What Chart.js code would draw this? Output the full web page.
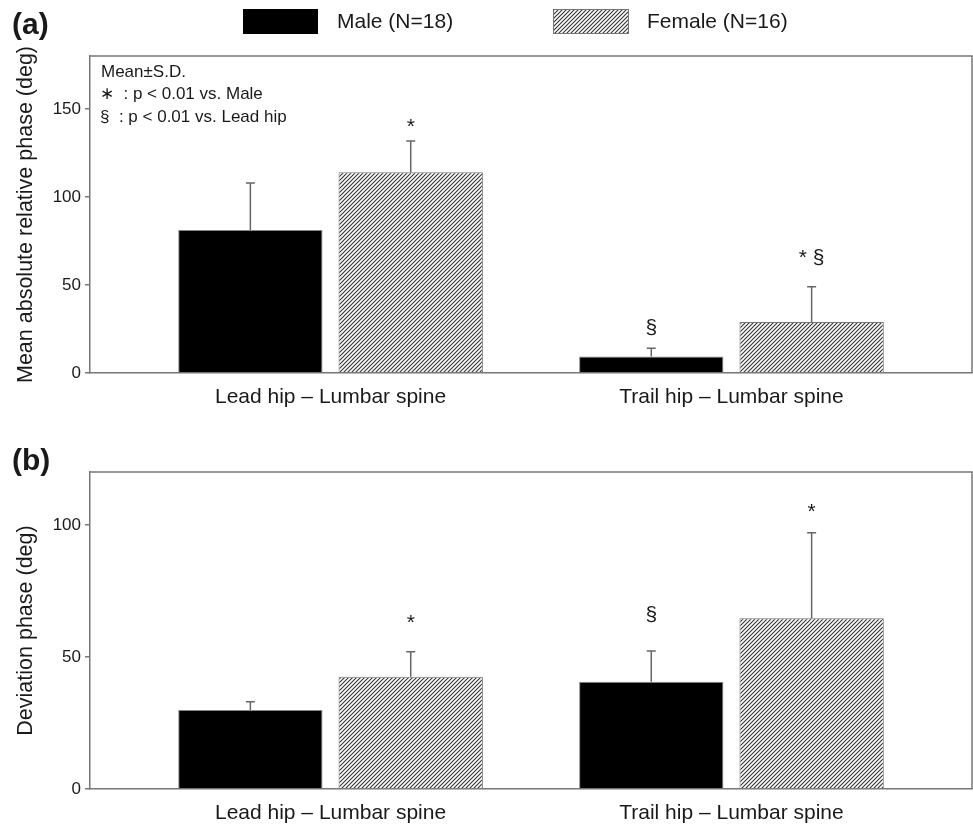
<!DOCTYPE html>
<html>
<head>
<meta charset="utf-8">
<script src="https://cdn.jsdelivr.net/npm/chart.js@4.4.1/dist/chart.umd.min.js"></script>
<style>
  body { margin: 0; background: #fff; }
  .panel { position: relative; width: 973px; }
</style>
</head>
<body>
<div class="panel"><canvas id="chartA" width="973" height="430"></canvas></div>
<div class="panel"><canvas id="chartB" width="973" height="399"></canvas></div>
<script>
///DATOS
const categorias = ["Lead hip – Lumbar spine", "Trail hip – Lumbar spine"]

const phaseMale = [81.2, 9.3]
const phaseMaleSD = [26.7, 4.7]
const phaseFemale = [114.0, 29.0]
const phaseFemaleSD = [17.7, 20.0]
const phaseMarkMale = ["", "§"]
const phaseMarkFemale = ["*", "* §"]
const phaseMarkLevelMale = [null, 26.1]
const phaseMarkLevelFemale = [142, 65.3]
const phaseTicks = [0, 50, 100, 150]

const devMale = [29.9, 40.6]
const devMaleSD = [3.1, 11.6]
const devFemale = [42.5, 64.6]
const devFemaleSD = [9.5, 32.4]
const devMarkMale = ["", "§"]
const devMarkFemale = ["*", "*"]
const devMarkLevelMale = [null, 65.9]
const devMarkLevelFemale = [64.3, 106.4]
const devTicks = [0, 50, 100]

const FONT = "'Liberation Sans', Arial, sans-serif"
const AXIS_COLOR = "#777"
const TEXT_COLOR = "#1a1a1a"


///PATRON RAYADO PARA FEMALE
function crearRayado() {
    const c = document.createElement("canvas")
    c.width = 4
    c.height = 4
    const g = c.getContext("2d")
    g.fillStyle = "#fff"
    g.fillRect(0, 0, 4, 4)
    g.strokeStyle = "#333"
    g.lineWidth = 1.1
    g.beginPath()
    g.moveTo(0, 4); g.lineTo(4, 0)
    g.moveTo(-1, 1); g.lineTo(1, -1)
    g.moveTo(3, 5); g.lineTo(5, 3)
    g.stroke()
    return g.createPattern(c, "repeat")
}
const rayado = crearRayado()


///PLUGIN: BARRAS DE ERROR, MARCAS Y MARCO
const extrasPlugin = {
    id: "extras",
    afterDatasetsDraw(chart) {
        const ctx = chart.ctx
        const y = chart.scales.y
        chart.data.datasets.forEach((ds, i) => {
            const meta = chart.getDatasetMeta(i)
            meta.data.forEach((bar, j) => {
                const topVal = ds.data[j].y + ds.sd[j]
                const yTop = y.getPixelForValue(topVal)
                ctx.save()
                ctx.strokeStyle = "#666"
                ctx.lineWidth = 1.5
                ctx.beginPath()
                ctx.moveTo(bar.x, bar.y)
                ctx.lineTo(bar.x, yTop)
                ctx.moveTo(bar.x - 4.5, yTop)
                ctx.lineTo(bar.x + 4.5, yTop)
                ctx.stroke()

                const mark = ds.marks[j]
                if (mark) {
                    ctx.font = "21px " + FONT
                    ctx.fillStyle = TEXT_COLOR
                    ctx.textAlign = "center"
                    ctx.textBaseline = "alphabetic"
                    const m = ctx.measureText(mark)
                    const yc = y.getPixelForValue(ds.markLevels[j])
                    const base = yc + (m.actualBoundingBoxAscent - m.actualBoundingBoxDescent) / 2
                    ctx.fillText(mark, bar.x, base)
                }
                ctx.restore()
            })
        })
    },
    afterDraw(chart) {
        const ctx = chart.ctx
        const a = chart.chartArea
        ctx.save()
        ctx.strokeStyle = AXIS_COLOR
        ctx.lineWidth = 1.5
        ctx.beginPath()
        ctx.moveTo(a.left, a.top)
        ctx.lineTo(a.right, a.top)
        ctx.lineTo(a.right, a.bottom)
        ctx.stroke()

        const opts = chart.options.plugins.extras
        ctx.fillStyle = TEXT_COLOR
        ctx.font = "bold 30px " + FONT
        ctx.textAlign = "left"
        ctx.textBaseline = "middle"
        ctx.fillText(opts.panel, 12, opts.panelY)

        if (opts.leyenda) {
            const dsM = chart.data.datasets[0]
            const dsF = chart.data.datasets[1]
            ctx.fillStyle = dsM.backgroundColor
            ctx.fillRect(243, 9, 75, 25)
            ctx.fillStyle = dsF.backgroundColor
            ctx.fillRect(553, 9, 76, 25)
            ctx.strokeStyle = "#777"
            ctx.lineWidth = 1
            ctx.strokeRect(553.5, 9.5, 75, 24)
            ctx.fillStyle = TEXT_COLOR
            ctx.font = "21px " + FONT
            ctx.fillText(dsM.label, 337, 22)
            ctx.fillText(dsF.label, 647, 22)

            ctx.font = "17px " + FONT
            ctx.fillText("Mean±S.D.", 101, 72)
            ctx.fillText("∗  : p < 0.01 vs. Male", 100, 94)
            ctx.fillText("§  : p < 0.01 vs. Lead hip", 100, 117)
        }
        ctx.restore()
    }
}


///CONFIGURACION COMUN
function crearGrafica(idCanvas, datos) {
    const config = {
        type: "bar",
        data: {
            datasets: [{
                label: "Male (N=18)",
                data: categorias.map((c, i) => ({ x: i, y: datos.male[i] })),
                sd: datos.maleSD,
                marks: datos.markMale,
                markLevels: datos.levelMale,
                backgroundColor: "#000",
                borderColor: "#888",
                borderWidth: 1
            }, {
                label: "Female (N=16)",
                data: categorias.map((c, i) => ({ x: i, y: datos.female[i] })),
                sd: datos.femaleSD,
                marks: datos.markFemale,
                markLevels: datos.levelFemale,
                backgroundColor: rayado,
                borderColor: "#777",
                borderWidth: 1
            }]
        },
        options: {
            responsive: false,
            animation: false,
            devicePixelRatio: 1,
            categoryPercentage: 0.8,
            barPercentage: 0.9,
            layout: { padding: { top: datos.padTop, right: 1, left: 0, bottom: 0 } },
            plugins: {
                legend: { display: false },
                tooltip: { enabled: false },
                extras: { panel: datos.panel, panelY: datos.panelY, leyenda: datos.leyenda }
            },
            scales: {
                x: {
                    type: "linear",
                    offset: false,
                    min: -0.6,
                    max: 1.6,
                    afterBuildTicks: (s) => { s.ticks = categorias.map((c, i) => ({ value: i })) },
                    afterFit: (s) => { s.height = datos.xHeight },
                    grid: { display: false, drawTicks: false, offset: false },
                    border: { display: true, color: AXIS_COLOR, width: 1.5 },
                    ticks: {
                        callback: (v) => categorias[v],
                        color: TEXT_COLOR,
                        font: { family: FONT, size: 21 },
                        padding: 12,
                        maxRotation: 0,
                        autoSkip: false
                    }
                },
                y: {
                    min: 0,
                    max: datos.max,
                    afterBuildTicks: (s) => { s.ticks = datos.ticks.map((v) => ({ value: v })) },
                    afterFit: (s) => { s.width = 90 },
                    grid: { display: true, drawOnChartArea: false, drawTicks: true, tickLength: 5, color: AXIS_COLOR, lineWidth: 1.5 },
                    border: { display: true, color: AXIS_COLOR, width: 1.5 },
                    ticks: {
                        color: TEXT_COLOR,
                        font: { family: FONT, size: 17 },
                        padding: 4
                    },
                    title: {
                        display: true,
                        text: datos.titulo,
                        color: TEXT_COLOR,
                        font: { family: FONT, size: 21.5 },
                        padding: { top: 13, bottom: 0 }
                    }
                }
            }
        },
        plugins: [extrasPlugin]
    }
    return new Chart(document.getElementById(idCanvas), config)
}


///RENDERIZAR AMBAS GRAFICAS
crearGrafica("chartA", {
    male: phaseMale, maleSD: phaseMaleSD, female: phaseFemale, femaleSD: phaseFemaleSD,
    markMale: phaseMarkMale, markFemale: phaseMarkFemale,
    levelMale: phaseMarkLevelMale, levelFemale: phaseMarkLevelFemale,
    ticks: phaseTicks, max: 180, titulo: "Mean absolute relative phase (deg)",
    padTop: 56, xHeight: 57, panel: "(a)", panelY: 26, leyenda: true
})

crearGrafica("chartB", {
    male: devMale, maleSD: devMaleSD, female: devFemale, femaleSD: devFemaleSD,
    markMale: devMarkMale, markFemale: devMarkFemale,
    levelMale: devMarkLevelMale, levelFemale: devMarkLevelFemale,
    ticks: devTicks, max: 120, titulo: "Deviation phase (deg)",
    padTop: 42, xHeight: 40, panel: "(b)", panelY: 32, leyenda: false
})
</script>
</body>
</html>
